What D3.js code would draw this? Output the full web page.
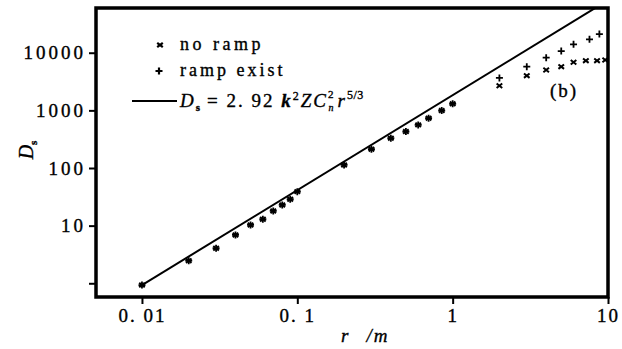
<!DOCTYPE html>
<html>
<head>
<meta charset="utf-8">
<script src="https://cdn.jsdelivr.net/npm/d3@7/dist/d3.min.js"></script>
<style>
body { margin: 0; background: #fff; }
text { font-family: "Liberation Serif", "DejaVu Serif", serif; fill: #000; stroke: #000; stroke-width: 0.35px; }
</style>
</head>
<body>
<div id="chart-container"></div>
<script>
// measured points, no ramp
var noRampR = [0.01, 0.02, 0.03, 0.04, 0.05, 0.06, 0.07, 0.08, 0.09, 0.1,
               0.2, 0.3, 0.4, 0.5, 0.6, 0.7, 0.85, 1.0,
               2, 3, 4, 5, 6, 7.2, 8.5, 9.6];
var noRampD = [0.93, 2.47, 4.05, 6.9, 10.3, 12.9, 18, 22.9, 28.7, 38.9,
               113, 212, 329, 428, 560, 732, 993, 1297,
               2670, 4000, 5010, 5730, 6830, 7280, 7280, 7480];

// measured points, ramp exist
var rampR = [0.01, 0.02, 0.03, 0.04, 0.05, 0.06, 0.07, 0.08, 0.09, 0.1,
             0.2, 0.3, 0.4, 0.5, 0.6, 0.7, 0.85, 1.0,
             2, 3, 4, 5, 6, 7.6, 8.8];
var rampD = [0.93, 2.47, 4.05, 6.9, 10.3, 12.9, 18, 22.9, 28.7, 38.9,
             113, 212, 329, 428, 560, 732, 993, 1297,
             3650, 5730, 8200, 10700, 14000, 17100, 21100];

// end points of the r^(5/3) line
var fitR = [0.01, 8.3];
var fitD = [0.93, 60000];

var xTicks = [0.01, 0.1, 1, 10];
var xTickLabels = ["0. 01", "0. 1", "1", "10"];
var yTicks = [1, 10, 100, 1000, 10000];
var yTickLabels = ["", "10", "100", "1000", "10000"];

var width = 622, height = 349;
var margin = {top: 8, right: 14, bottom: 52, left: 96};

var x = d3.scaleLog()
    .domain([0.00506, 10])
    .range([margin.left, width - margin.right]);

var y = d3.scaleLog()
    .domain([0.578, 59700])
    .range([height - margin.bottom, margin.top]);

var svg = d3.select("#chart-container")
    .append("svg")
    .attr("width", width)
    .attr("height", height);

svg.append("clipPath").attr("id", "plot-clip")
  .append("rect")
    .attr("x", margin.left)
    .attr("y", margin.top)
    .attr("width", width - margin.left - margin.right)
    .attr("height", height - margin.top - margin.bottom);

// axes
var xAxis = svg.append("g")
    .attr("transform", "translate(0," + (height - margin.bottom) + ")")
    .call(d3.axisBottom(x)
        .tickValues(xTicks)
        .tickSize(7)
        .tickPadding(5)
        .tickFormat(function(d, i) { return xTickLabels[i]; }));
xAxis.select(".domain").remove();
xAxis.selectAll("line").attr("stroke", "#000").attr("stroke-width", 2);
xAxis.selectAll("text")
    .style("font-family", '"Liberation Serif", serif')
    .style("font-size", "19px")
    .style("letter-spacing", "2px");

var yAxis = svg.append("g")
    .attr("transform", "translate(" + margin.left + ",0)")
    .call(d3.axisLeft(y)
        .tickValues(yTicks)
        .tickSize(7)
        .tickPadding(3)
        .tickFormat(function(d, i) { return yTickLabels[i]; }));
yAxis.select(".domain").remove();
yAxis.selectAll("line").attr("stroke", "#000").attr("stroke-width", 2);
yAxis.selectAll("text")
    .style("font-family", '"Liberation Serif", serif')
    .style("font-size", "19px")
    .style("letter-spacing", "3px");

// frame
svg.append("rect")
    .attr("x", margin.left)
    .attr("y", margin.top)
    .attr("width", width - margin.left - margin.right)
    .attr("height", height - margin.top - margin.bottom)
    .attr("fill", "none")
    .attr("stroke", "#000")
    .attr("stroke-width", 3.5);

// fitted line
var line = d3.line()
    .x(function(d) { return x(d[0]); })
    .y(function(d) { return y(d[1]); });

svg.append("path")
    .datum(d3.zip(fitR, fitD))
    .attr("clip-path", "url(#plot-clip)")
    .attr("d", line)
    .attr("fill", "none")
    .attr("stroke", "#000")
    .attr("stroke-width", 2);

// markers
var crossPath = "M-2.8,-2.2L2.8,2.2M-2.8,2.2L2.8,-2.2";
var plusPath = "M-3.5,0L3.5,0M0,-3.5L0,3.5";

svg.append("g").selectAll("path")
    .data(d3.zip(noRampR, noRampD))
    .enter().append("path")
    .attr("transform", function(d) { return "translate(" + x(d[0]) + "," + y(d[1]) + ")"; })
    .attr("d", crossPath)
    .attr("stroke", "#000")
    .attr("stroke-width", 2);

svg.append("g").selectAll("path")
    .data(d3.zip(rampR, rampD))
    .enter().append("path")
    .attr("transform", function(d) { return "translate(" + x(d[0]) + "," + y(d[1]) + ")"; })
    .attr("d", plusPath)
    .attr("stroke", "#000")
    .attr("stroke-width", 1.8);

// legend
var lg = svg.append("g");
lg.append("path")
    .attr("transform", "translate(160,45)")
    .attr("d", crossPath)
    .attr("stroke", "#000").attr("stroke-width", 2.2);
lg.append("text")
    .attr("x", 180).attr("y", 50)
    .style("font-size", "18px").style("letter-spacing", "3.5px")
    .text("no ramp");
lg.append("path")
    .attr("transform", "translate(159,71)")
    .attr("d", plusPath)
    .attr("stroke", "#000").attr("stroke-width", 2.2);
lg.append("text")
    .attr("x", 180).attr("y", 76)
    .style("font-size", "18px").style("letter-spacing", "3px")
    .text("ramp exist");
lg.append("line")
    .attr("x1", 132).attr("x2", 177)
    .attr("y1", 101).attr("y2", 101)
    .attr("stroke", "#000").attr("stroke-width", 2);

var f = lg.append("text")
    .attr("x", 180).attr("y", 107)
    .style("font-size", "19px").style("letter-spacing", "2px");
f.append("tspan").style("font-style", "italic").text("D");
f.append("tspan").attr("dy", 4).style("font-size", "11px").style("font-weight", "bold").text("s");
f.append("tspan").attr("dy", -4).attr("dx", 5).text("= 2. 92 ");
f.append("tspan").style("font-style", "italic").style("font-weight", "bold").text("k");
f.append("tspan").attr("dy", -7).style("font-size", "12px").text("2");
f.append("tspan").attr("dy", 7).style("font-style", "italic").text("ZC");
f.append("tspan").attr("dy", -9).style("font-size", "11px").text("2");
f.append("tspan").attr("dy", 13).attr("dx", -7).style("font-size", "10px").style("font-style", "italic").text("n");
f.append("tspan").attr("dy", -4).attr("dx", 2).style("font-style", "italic").text("r");
f.append("tspan").attr("dy", -8).style("font-size", "12px").style("letter-spacing", "0.5px").text("5/3");

svg.append("text")
    .attr("x", 564).attr("y", 97)
    .attr("text-anchor", "middle")
    .style("font-size", "19px").style("letter-spacing", "2px")
    .text("(b)");

// axis titles
var xt = svg.append("text")
    .attr("x", 341).attr("y", 342)
    .style("font-size", "19px");
xt.append("tspan").style("font-style", "italic").text("r");
xt.append("tspan").attr("dx", 18).style("font-style", "italic").style("letter-spacing", "2px").text("/m");

var yt = svg.append("text")
    .attr("transform", "translate(33,150) rotate(-90)")
    .attr("text-anchor", "middle")
    .style("font-size", "20px");
yt.append("tspan").style("font-style", "italic").text("D");
yt.append("tspan").attr("dy", 4).style("font-size", "11px").style("font-weight", "bold").text("s");
</script>
</body>
</html>
